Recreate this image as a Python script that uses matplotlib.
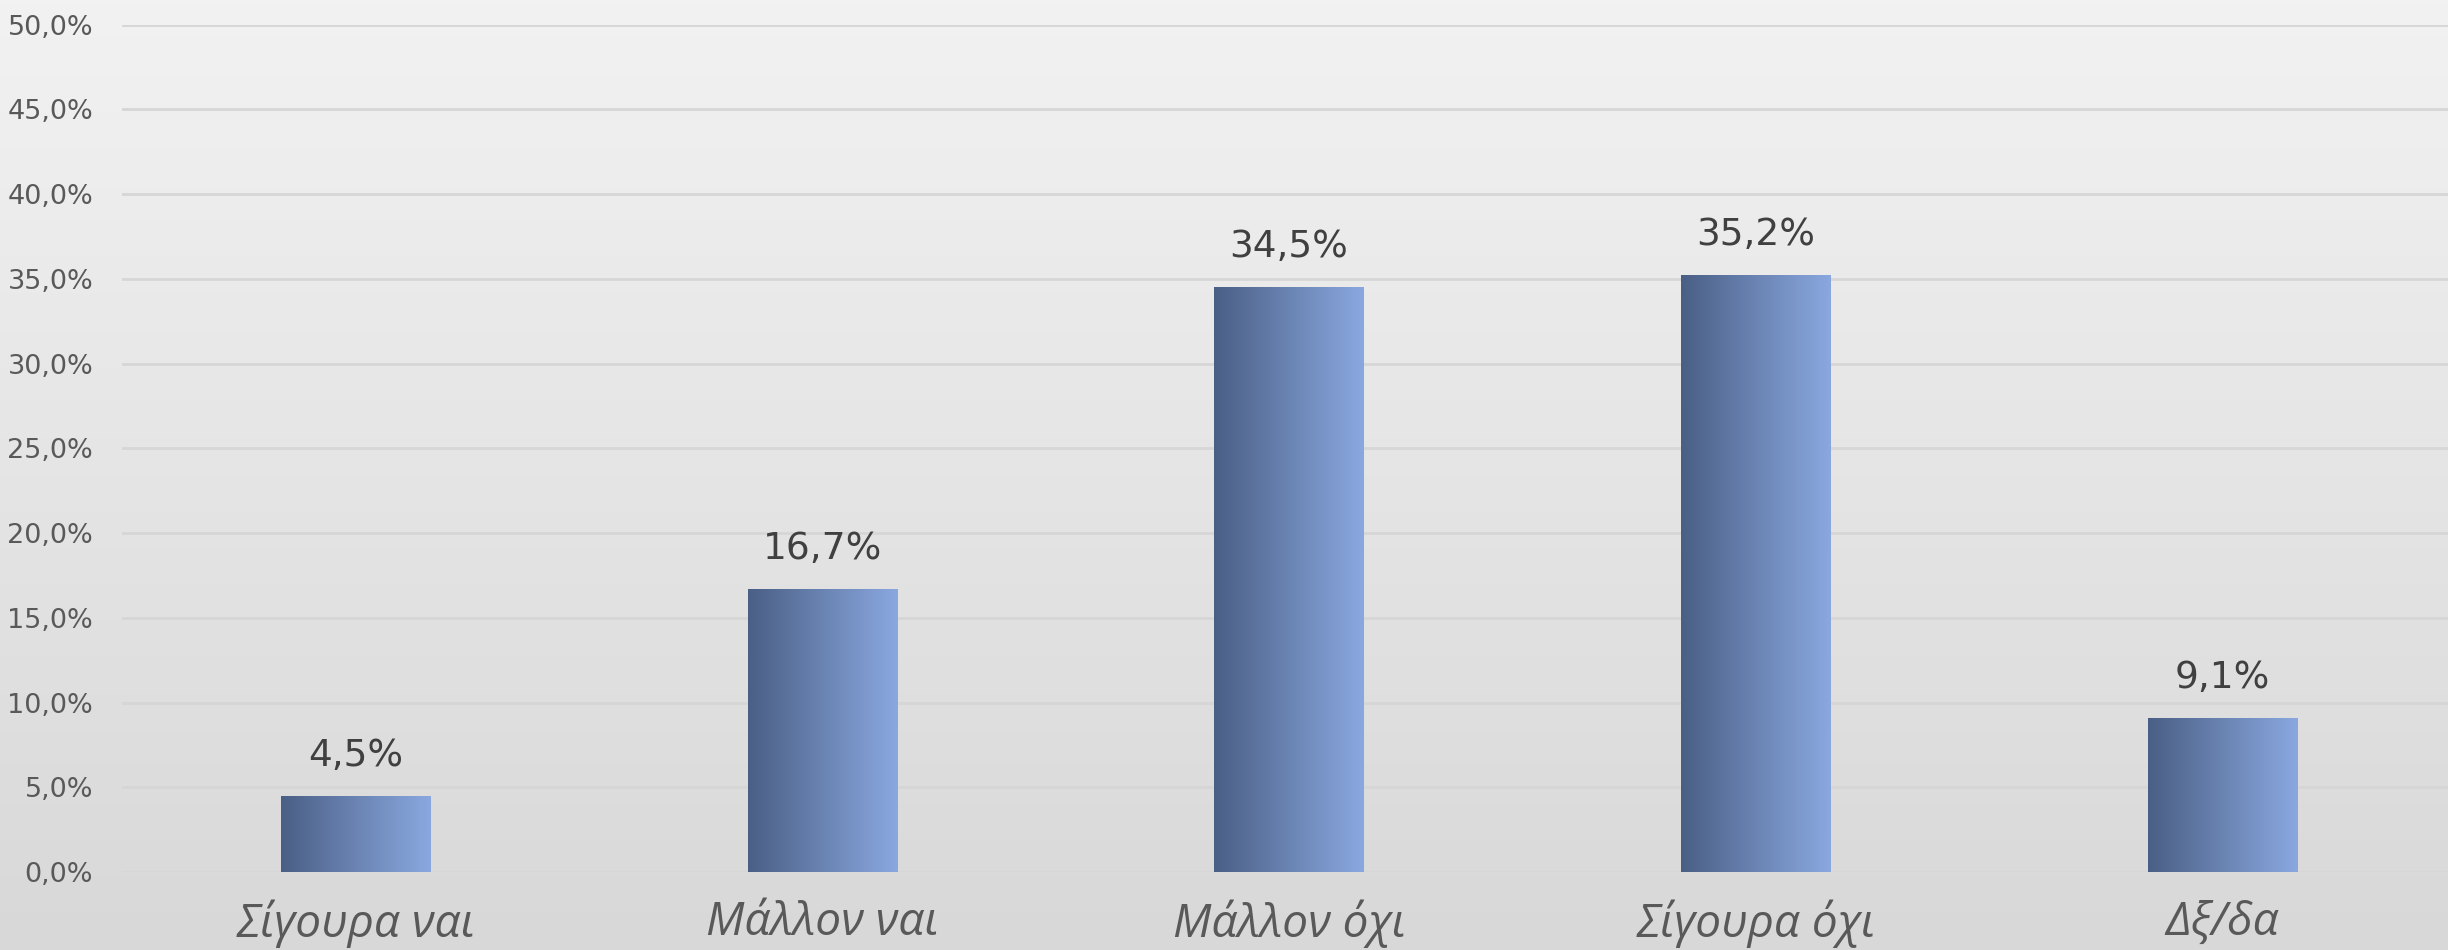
import numpy as np
import matplotlib.pyplot as plt
from matplotlib.colors import LinearSegmentedColormap

categories = ['Σίγουρα ναι', 'Μάλλον ναι', 'Μάλλον όχι', 'Σίγουρα όχι', 'Δξ/δα']
values = [4.5, 16.7, 34.5, 35.2, 9.1]
yticks = [0, 5, 10, 15, 20, 25, 30, 35, 40, 45, 50]

fig = plt.figure(figsize=(24.48, 9.5), dpi=100)

# background gradient over the whole figure
bg = fig.add_axes([0, 0, 1, 1], zorder=0)
bg_cmap = LinearSegmentedColormap.from_list('bg', ['#d8d8d8', '#f2f2f2'])
bg.imshow(np.linspace(0, 1, 256).reshape(-1, 1), cmap=bg_cmap, aspect='auto',
          origin='lower', extent=(0, 1, 0, 1))
bg.axis('off')

ax = fig.add_axes([0.0500, 0.0821, 0.9532, 0.8921], zorder=1)
ax.patch.set_alpha(0)

x = np.arange(len(categories))
bars = ax.bar(x, values, width=0.32, facecolor='none', edgecolor='none', zorder=3)

bar_cmap = LinearSegmentedColormap.from_list('bar', ['#4a5f85', '#8aa8e0'])
grad = np.linspace(0, 1, 256).reshape(1, -1)
for b in bars:
    x0, y0 = b.get_x(), b.get_y()
    im = ax.imshow(grad, cmap=bar_cmap, aspect='auto', zorder=3,
                   extent=(x0, x0 + b.get_width(), y0, y0 + b.get_height()))
    im.set_clip_path(b)

ax.set_xlim(-0.5, len(categories) - 0.5)
ax.set_ylim(0, 50)

for xi, v in zip(x, values):
    ax.annotate(f'{v:.1f}%'.replace('.', ','), (xi, v), xytext=(0, 16),
                textcoords='offset points', ha='center', va='bottom',
                fontsize=27, color='#404040', family='DejaVu Sans')

ax.set_yticks(yticks)
ax.set_yticklabels([f'{t:.1f}%'.replace('.', ',') for t in yticks],
                   fontsize=19.5, color='#595959', family='DejaVu Sans')
ax.set_xticks(x)
ax.set_xticklabels(categories, fontsize=33, color='#595959', style='italic',
                   family=['Open Sans', 'DejaVu Sans'])
ax.tick_params(axis='y', length=0, pad=21)
ax.tick_params(axis='x', length=0, pad=20)

ax.grid(axis='y', color='#d6d6d6', linewidth=2, zorder=0)
ax.set_axisbelow(True)
for s in ax.spines.values():
    s.set_visible(False)

fig.savefig('out.png', dpi=100)
